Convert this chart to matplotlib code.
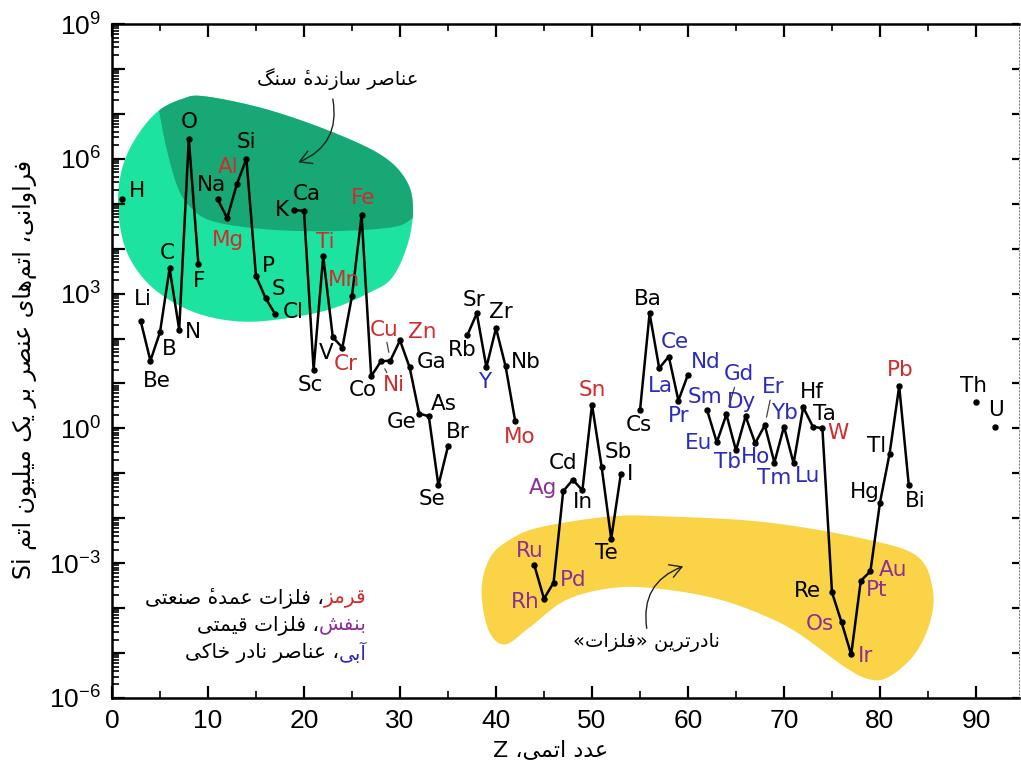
import re
import numpy as np
import matplotlib
matplotlib.use("Agg")
import matplotlib.pyplot as plt
import matplotlib.ticker as mticker
from matplotlib.path import Path
from matplotlib.patches import PathPatch
from matplotlib import font_manager
from matplotlib.ft2font import FT2Font

# ---------------- data ----------------
atomic_number = [1, 3, 4, 5, 6, 7, 8, 9,
                 11, 12, 13, 14, 15, 16, 17,
                 19, 20, 21, 22, 23, 24, 25, 26, 27, 28, 29, 30, 31, 32, 33, 34, 35,
                 37, 38, 39, 40, 41, 42,
                 44, 45, 46, 47, 48, 49, 50, 51, 52, 53,
                 55, 56, 57, 58, 59, 60,
                 62, 63, 64, 65, 66, 67, 68, 69, 70, 71, 72, 73, 74, 75, 76, 77, 78, 79,
                 80, 81, 82, 83,
                 90, 92]
symbols = ['H', 'Li', 'Be', 'B', 'C', 'N', 'O', 'F',
           'Na', 'Mg', 'Al', 'Si', 'P', 'S', 'Cl',
           'K', 'Ca', 'Sc', 'Ti', 'V', 'Cr', 'Mn', 'Fe', 'Co', 'Ni', 'Cu', 'Zn', 'Ga', 'Ge', 'As', 'Se', 'Br',
           'Rb', 'Sr', 'Y', 'Zr', 'Nb', 'Mo',
           'Ru', 'Rh', 'Pd', 'Ag', 'Cd', 'In', 'Sn', 'Sb', 'Te', 'I',
           'Cs', 'Ba', 'La', 'Ce', 'Pr', 'Nd',
           'Sm', 'Eu', 'Gd', 'Tb', 'Dy', 'Ho', 'Er', 'Tm', 'Yb', 'Lu', 'Hf', 'Ta', 'W', 'Re', 'Os', 'Ir', 'Pt', 'Au',
           'Hg', 'Tl', 'Pb', 'Bi',
           'Th', 'U']
abundance = [1.26e5, 240, 32, 138, 3630, 158, 2.75e6, 4470,
             1.26e5, 4.79e4, 2.69e5, 1.0e6, 2450, 794, 347,
             7.24e4, 6.92e4, 20.4, 6760, 107, 63, 891, 5.5e4, 14.5, 30.9, 32.4, 91, 22.9, 2.14, 1.86, 0.054, 0.40,
             117, 363, 22.9, 170, 24, 1.45,
             8.9e-4, 1.62e-4, 3.7e-4, 0.040, 0.072, 0.042, 3.39, 0.141, 3.5e-3, 0.095,
             2.51, 363, 21.9, 39.8, 4.17, 15.8,
             2.51, 0.49, 2.04, 0.324, 1.86, 0.468, 1.17, 0.174, 1.10, 0.166, 2.95, 1.10, 1.0, 2.24e-4, 4.8e-5,
             9.3e-6, 4.07e-4, 6.6e-4,
             0.0224, 0.275, 8.7, 0.054,
             3.8, 1.05]

major_industrial = ['Mg', 'Al', 'Ti', 'Cr', 'Mn', 'Fe', 'Ni', 'Cu', 'Zn', 'Mo', 'Sn', 'W', 'Pb']
precious = ['Ru', 'Rh', 'Pd', 'Ag', 'Os', 'Ir', 'Pt', 'Au']
rare_earth = ['Y', 'La', 'Ce', 'Pr', 'Nd', 'Sm', 'Eu', 'Gd', 'Tb', 'Dy', 'Ho', 'Er', 'Tm', 'Yb', 'Lu']

x_ticks = [0, 10, 20, 30, 40, 50, 60, 70, 80, 90]
y_decades = list(range(-6, 10))

# ---------------- styles / positions ----------------
RED, PURPLE, BLUE = '#d22b2b', '#8e2f96', '#2b2bbd'
LIGHT_GREEN, DARK_GREEN, YELLOW = '#1ce4a0', '#17a876', '#fad446'

# label offsets in pixels (dx right, dy down) from the data point
label_offset = {
    'H': (15, -8), 'Li': (2, -22), 'Be': (6, 20), 'B': (9, 17), 'C': (-2, -15), 'N': (14, 2),
    'O': (0, -17), 'F': (1, 17), 'Na': (-6, -14), 'Mg': (1, 22), 'Al': (-9, -17), 'Si': (0, -17),
    'P': (12, -10), 'S': (13, -9), 'Cl': (18, -2), 'K': (-12, 0), 'Ca': (3, -17), 'Sc': (-3, 15),
    'Ti': (2, -14), 'V': (-7, 16), 'Cr': (3, 16), 'Mn': (-8, -16), 'Fe': (1, -17), 'Co': (-8, 14),
    'Ni': (13, 24), 'Cu': (-6, -31), 'Zn': (22, -8), 'Ga': (22, -5), 'Ge': (-18, 8), 'As': (15, -12),
    'Se': (-6, 14), 'Br': (10, -14), 'Rb': (-5, 15), 'Sr': (-3, -13), 'Y': (-2, 15), 'Zr': (5, -16),
    'Nb': (20, -4), 'Mo': (4, 16), 'Ru': (-5, -14), 'Rh': (-19, 3), 'Pd': (20, -3), 'Ag': (-20, -3),
    'Cd': (-10, -17), 'In': (1, 12), 'Sn': (0, -15), 'Sb': (17, -15), 'Te': (-5, 14), 'I': (9, 0),
    'Cs': (-1, 15), 'Ba': (-2, -14), 'La': (1, 18), 'Ce': (6, -15), 'Pr': (0, 15), 'Nd': (18, -13),
    'Sm': (-2, -13), 'Eu': (-18, 1), 'Gd': (12, -40), 'Tb': (-9, 12), 'Dy': (-4, -14), 'Ho': (0, 14),
    'Er': (8, -38), 'Tm': (0, 15), 'Yb': (0, -14), 'Lu': (14, 13), 'Hf': (9, -15), 'Ta': (12, -13),
    'W': (16, 5), 'Re': (-25, -1), 'Os': (-22, 2), 'Ir': (14, 2), 'Pt': (16, 9), 'Au': (23, -1),
    'Hg': (-15, -11), 'Tl': (-13, -8), 'Pb': (1, -16), 'Bi': (6, 16), 'Th': (-3, -16), 'U': (1, -17),
}
leader_labels = ['Ni', 'Cu', 'Gd', 'Er']

# blob outlines (Z, log10 abundance)
green_outline = [(0.63, 4.99), (1.04, 5.77), (2.40, 6.44), (4.69, 7.04), (7.29, 7.33), (9.69, 7.39),
                 (16.1, 7.10), (23.0, 6.59), (28.2, 6.06), (30.7, 5.50), (31.35, 4.88), (30.8, 4.10),
                 (29.2, 3.36), (26.9, 3.03), (22.7, 2.65), (17.5, 2.43), (13.3, 2.38), (9.17, 2.54),
                 (5.52, 2.92), (2.92, 3.43), (1.25, 4.10)]
dark_edge = [(4.0, 8.2), (4.8, 7.2), (5.0, 6.95), (5.7, 6.21), (6.8, 5.39), (8.1, 4.94), (10.5, 4.61),
             (16.1, 4.43), (23.0, 4.39), (29.3, 4.48), (31.5, 4.70), (34.0, 5.0)]
yellow_outline = [(38.5, -3.59), (39.4, -2.87), (41.5, -2.47), (44.6, -2.20), (51.9, -1.96), (57.8, -1.96),
                  (68.2, -2.09), (78.6, -2.47), (83.9, -2.85), (85.5, -3.59), (85.2, -4.32), (83.6, -5.03),
                  (81.0, -5.52), (79.0, -5.59), (76.4, -5.32), (71.7, -4.59), (68.2, -4.19), (63.3, -3.81),
                  (57.8, -3.59), (52.6, -3.54), (47.4, -3.81), (43.5, -4.43), (40.9, -4.81), (39.2, -4.48)]

# ---------------- Persian text helpers (manual shaping + RTL) ----------------
_fa_font = FT2Font(font_manager.findfont('DejaVu Sans'))
_cmap = _fa_font.get_charmap()
HAS_HEH_HAMZA_FORM = 0xFBA4 in _cmap
HAS_HAMZA_MARK = 0x0654 in _cmap

FORMS = {
    '\u0627': ('\uFE8D', '\uFE8E', None, None), '\u0622': ('\uFE81', '\uFE82', None, None),
    '\u0628': ('\uFE8F', '\uFE90', '\uFE91', '\uFE92'), '\u067E': ('\uFB56', '\uFB57', '\uFB58', '\uFB59'),
    '\u062A': ('\uFE95', '\uFE96', '\uFE97', '\uFE98'), '\u062B': ('\uFE99', '\uFE9A', '\uFE9B', '\uFE9C'),
    '\u062C': ('\uFE9D', '\uFE9E', '\uFE9F', '\uFEA0'), '\u062D': ('\uFEA1', '\uFEA2', '\uFEA3', '\uFEA4'),
    '\u062E': ('\uFEA5', '\uFEA6', '\uFEA7', '\uFEA8'), '\u062F': ('\uFEA9', '\uFEAA', None, None),
    '\u0630': ('\uFEAB', '\uFEAC', None, None), '\u0631': ('\uFEAD', '\uFEAE', None, None),
    '\u0632': ('\uFEAF', '\uFEB0', None, None), '\u0633': ('\uFEB1', '\uFEB2', '\uFEB3', '\uFEB4'),
    '\u0634': ('\uFEB5', '\uFEB6', '\uFEB7', '\uFEB8'), '\u0635': ('\uFEB9', '\uFEBA', '\uFEBB', '\uFEBC'),
    '\u0636': ('\uFEBD', '\uFEBE', '\uFEBF', '\uFEC0'), '\u0637': ('\uFEC1', '\uFEC2', '\uFEC3', '\uFEC4'),
    '\u0638': ('\uFEC5', '\uFEC6', '\uFEC7', '\uFEC8'), '\u0639': ('\uFEC9', '\uFECA', '\uFECB', '\uFECC'),
    '\u063A': ('\uFECD', '\uFECE', '\uFECF', '\uFED0'), '\u0641': ('\uFED1', '\uFED2', '\uFED3', '\uFED4'),
    '\u0642': ('\uFED5', '\uFED6', '\uFED7', '\uFED8'), '\u06A9': ('\uFB8E', '\uFB8F', '\uFB90', '\uFB91'),
    '\u06AF': ('\uFB92', '\uFB93', '\uFB94', '\uFB95'), '\u0644': ('\uFEDD', '\uFEDE', '\uFEDF', '\uFEE0'),
    '\u0645': ('\uFEE1', '\uFEE2', '\uFEE3', '\uFEE4'), '\u0646': ('\uFEE5', '\uFEE6', '\uFEE7', '\uFEE8'),
    '\u0647': ('\uFEE9', '\uFEEA', '\uFEEB', '\uFEEC'), '\u06C0': ('\uFBA4', '\uFBA5', None, None),
    '\u0648': ('\uFEED', '\uFEEE', None, None), '\u06CC': ('\uFBFC', '\uFBFD', '\uFBFE', '\uFBFF'),
}
MIRROR = {'\u00AB': '\u00BB', '\u00BB': '\u00AB', '(': ')', ')': '('}
MARKS = set(chr(c) for c in range(0x064B, 0x0660)) | {'\u0670'}


def shape(s):
    s = s.replace('\u064A', '\u06CC').replace('\u0643', '\u06A9')
    if not HAS_HEH_HAMZA_FORM:
        # heh + combining hamza above, or plain heh when no mark glyph exists
        s = s.replace('\u06C0', '\u0647\u0654' if HAS_HAMZA_MARK else '\u0647')
    out = []
    n = len(s)
    dual = lambda c: c in FORMS and FORMS[c][2] is not None

    def neighbour(i, step):
        j = i + step
        while 0 <= j < n and s[j] in MARKS:
            j += step
        return s[j] if 0 <= j < n else ''

    for i, c in enumerate(s):
        if c not in FORMS:
            out.append(c)
            continue
        prev = neighbour(i, -1)
        nxt = neighbour(i, 1)
        jp = dual(prev)
        jn = dual(c) and nxt in FORMS
        f = FORMS[c]
        out.append(f[3] if (jp and jn) else f[1] if jp else f[2] if jn else f[0])
    return ''.join(out).replace('\u200c', '')


def fa(s):
    # visual (left-to-right) order; zero-width marks stay just before their base,
    # where their outline lands on the base glyph
    r = shape(s)[::-1]
    r = re.sub(r'[A-Za-z0-9]+', lambda m: m.group(0)[::-1], r)
    return ''.join(MIRROR.get(c, c) for c in r)


def catmull_rom(pts, closed=True, n=24):
    P = np.asarray(pts, float)
    if closed:
        E = np.vstack([P[-1], P, P[0], P[1]])
        segs = len(P)
    else:
        E = np.vstack([P[0], P, P[-1]])
        segs = len(P) - 1
    t = np.linspace(0, 1, n, endpoint=False)[:, None]
    out = []
    for i in range(segs):
        p0, p1, p2, p3 = E[i], E[i + 1], E[i + 2], E[i + 3]
        out.append(0.5 * ((2 * p1) + (-p0 + p2) * t + (2 * p0 - 5 * p1 + 4 * p2 - p3) * t ** 2
                          + (-p0 + 3 * p1 - 3 * p2 + p3) * t ** 3))
    out = np.vstack(out)
    if not closed:
        out = np.vstack([out, P[-1]])
    return out


def to_plot(arr):
    a = np.array(arr, float)
    return np.column_stack([a[:, 0], 10.0 ** a[:, 1]])


# ---------------- figure ----------------
plt.rcParams['font.family'] = ['Liberation Sans', 'DejaVu Sans']
plt.rcParams['mathtext.fontset'] = 'custom'
plt.rcParams['mathtext.rm'] = 'Liberation Sans'

FA_FAMILY = ['DejaVu Sans']

fig = plt.figure(figsize=(10.21, 7.72), dpi=100)
ax = fig.add_axes([112 / 1021, 1 - 698 / 772, (1019 - 112) / 1021, (698 - 24) / 772])
ax.set_yscale('log')
ax.set_xlim(0, (1019 - 112) / 9.6)
ax.set_ylim(1e-6, 1e9)

# blobs
light = PathPatch(Path(to_plot(catmull_rom(green_outline))), fc=LIGHT_GREEN, ec='none', zorder=0.5)
ax.add_patch(light)
dark_pts = catmull_rom(dark_edge, closed=False)
dark_pts = np.vstack([dark_pts, [[34.0, 8.6], [4.0, 8.6]]])
dark = PathPatch(Path(to_plot(dark_pts)), fc=DARK_GREEN, ec='none', zorder=0.6)
ax.add_patch(dark)
dark.set_clip_path(light)
ax.add_patch(PathPatch(Path(to_plot(catmull_rom(yellow_outline))), fc=YELLOW, ec='none', zorder=0.5))

# line with breaks at missing elements
xs, ys = [], []
for i, (z, v) in enumerate(zip(atomic_number, abundance)):
    if i > 0 and z - atomic_number[i - 1] > 1:
        xs.append(np.nan)
        ys.append(np.nan)
    xs.append(z)
    ys.append(v)
ax.plot(xs, ys, color='black', lw=1.8, marker='o', ms=3.6, zorder=2)

# element labels
for z, v, s in zip(atomic_number, abundance, symbols):
    color = RED if s in major_industrial else PURPLE if s in precious else BLUE if s in rare_earth else 'black'
    dx, dy = label_offset[s]
    kw = {}
    if s in leader_labels:
        kw['arrowprops'] = dict(arrowstyle='-', color='#444444', lw=0.9, shrinkA=0, shrinkB=6)
    ax.annotate(s, xy=(z, v), xytext=(dx, -dy), textcoords='offset pixels', ha='center', va='center',
                fontsize=15.5, color=color, family='DejaVu Sans', zorder=3, **kw)

# ticks
ax.xaxis.set_major_locator(mticker.FixedLocator(x_ticks))
ax.xaxis.set_minor_locator(mticker.MultipleLocator(5))
ax.yaxis.set_major_locator(mticker.FixedLocator([10.0 ** k for k in y_decades]))
ax.yaxis.set_minor_locator(mticker.LogLocator(base=10, subs=np.arange(2, 10), numticks=40))


def yfmt(v, pos):
    k = int(round(np.log10(v)))
    return r'$\mathregular{10^{%d}}$' % k if k % 3 == 0 else ''


ax.yaxis.set_major_formatter(mticker.FuncFormatter(yfmt))
ax.yaxis.set_minor_formatter(mticker.NullFormatter())
ax.tick_params(axis='both', which='major', direction='in', length=9, width=1.6, labelsize=19, pad=8)
ax.tick_params(axis='both', which='minor', direction='in', length=5, width=1.2)
ax.tick_params(axis='x', which='both', top=True)
ax.tick_params(axis='y', which='both', right=False)
for sp in ['left', 'bottom', 'top']:
    ax.spines[sp].set_linewidth(1.8)
ax.spines['right'].set_linestyle((0, (1, 2)))
ax.spines['right'].set_linewidth(0.8)
ax.spines['right'].set_color('#888888')

tw = ax.twinx()
tw.set_yscale('log')
tw.set_ylim(1e-6, 1e9)
tw.yaxis.set_major_locator(mticker.FixedLocator([10.0 ** k for k in y_decades]))
tw.yaxis.set_minor_locator(mticker.NullLocator())
tw.yaxis.set_major_formatter(mticker.NullFormatter())
tw.tick_params(axis='y', which='major', direction='in', length=5, width=1.6)
for sp in tw.spines.values():
    sp.set_visible(False)

# axis labels (Persian)
ax.set_xlabel(fa('عدد اتمی، Z'), fontsize=16, family=FA_FAMILY)
ax.xaxis.set_label_coords(0.483, -0.063)
ax.set_ylabel(fa('فراوانی، اتم\u200cهای عنصر بر یک میلیون اتم Si'), fontsize=17, family=FA_FAMILY)
ax.yaxis.set_label_coords(-0.083, 0.487)

# annotations
ax.text(23.5, 10 ** 7.77, fa('عناصر سازند\u06C0 سنگ'), ha='center', va='center', fontsize=14,
        family=FA_FAMILY, zorder=3)
ax.annotate('', xy=(19.4, 10 ** 5.92), xytext=(23.0, 10 ** 7.33),
            arrowprops=dict(arrowstyle='->,head_length=0.7,head_width=0.4', color='#222222', lw=1.0,
                            connectionstyle='arc3,rad=-0.4', shrinkA=0, shrinkB=0, mutation_scale=12), zorder=3)
ax.text(55.7, 10 ** -4.77, fa('نادرترین «فلزات»'), ha='center', va='center', fontsize=14,
        family=FA_FAMILY, zorder=3)
ax.annotate('', xy=(59.5, 10 ** -3.07), xytext=(55.7, 10 ** -4.45),
            arrowprops=dict(arrowstyle='->,head_length=0.7,head_width=0.4', color='#222222', lw=1.0,
                            connectionstyle='arc3,rad=-0.4', shrinkA=0, shrinkB=0, mutation_scale=12), zorder=3)

# colour key (Persian, right-aligned)
key_lines = [('قرمز', '، فلزات عمد\u06C0 صنعتی', RED, 598),
             ('بنفش', '، فلزات قیمتی', PURPLE, 625),
             ('آبی', '، عناصر نادر خاکی', BLUE, 653)]
fig.canvas.draw()
renderer = fig.canvas.get_renderer()
for word, rest, col, ypx in key_lines:
    t1 = fig.text(367 / 1021, 1 - ypx / 772, fa(word), ha='right', va='center', fontsize=14.5,
                  family=FA_FAMILY, color=col)
    bb = t1.get_window_extent(renderer)
    fig.text(bb.x0 / fig.bbox.width, 1 - ypx / 772, fa(rest), ha='right', va='center', fontsize=14.5,
             family=FA_FAMILY, color='black')

fig.savefig('out.png', dpi=100)
